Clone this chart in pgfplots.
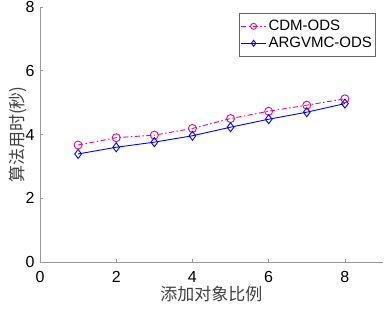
\documentclass[border=0pt]{standalone}
\usepackage{pgfplots}
\pgfplotsset{compat=1.18}
\usepackage{fontspec}
\setmainfont{Liberation Sans}
\newfontfamily\cjk{Noto Sans CJK SC}
\definecolor{axgray}{rgb}{0.6,0.6,0.6}
\begin{document}
\begin{tikzpicture}
\begin{axis}[
  scale only axis,
  width=343pt, height=255pt,
  xmin=0, xmax=9, ymin=0, ymax=8,
  xtick={0,2,4,6,8}, ytick={0,2,4,6,8},
  axis lines*=left,
  axis line style={axgray, line width=0.8pt},
  tick style={axgray, line width=0.6pt},
  tick align=inside,
  major tick length=3pt,
  /pgf/number format/assume math mode=true,
  ticklabel style={font=\fontsize{16}{18}\selectfont, text=black},
  xticklabel style={yshift=-6pt},
  yticklabel style={xshift=-2pt},
  xlabel={\cjk 添加对象比例},
  ylabel={\cjk 算法用时(秒)},
  xlabel style={font=\fontsize{17}{20}\selectfont, color=black!75, yshift=4pt},
  ylabel style={font=\fontsize{17}{20}\selectfont, color=black!75, yshift=-8pt},
  legend style={at={(0.977,0.976)}, anchor=north east, draw=black!60,
    font=\fontsize{15}{18}\selectfont, fill=white, inner xsep=1pt, inner ysep=5pt,
    row sep=1pt},
  legend cell align=left,
  legend image code/.code={\draw[mark repeat=2,mark phase=2,#1] plot coordinates {(0pt,0pt) (12.5pt,0pt) (25pt,0pt)};},
  legend image post style={mark size=3pt},
]
\addplot[color=magenta, line width=0.9pt, dash pattern=on 5pt off 2.5pt on 1.5pt off 2.5pt,
  mark=o, mark size=4pt, mark options={solid}] coordinates {
  (1,3.67) (2,3.90) (3,3.98) (4,4.19) (5,4.50) (6,4.73) (7,4.92) (8,5.12)
};
\addlegendentry{CDM-ODS}
\addplot[color=blue, line width=0.9pt, mark=diamond, mark size=4.5pt, mark options={solid}] coordinates {
  (1,3.39) (2,3.60) (3,3.76) (4,3.96) (5,4.23) (6,4.48) (7,4.70) (8,4.97)
};
\addlegendentry{ARGVMC-ODS}
\end{axis}
\pgfresetboundingbox
\path (-40pt,-52pt) rectangle (344pt,262pt);
\end{tikzpicture}
\end{document}
